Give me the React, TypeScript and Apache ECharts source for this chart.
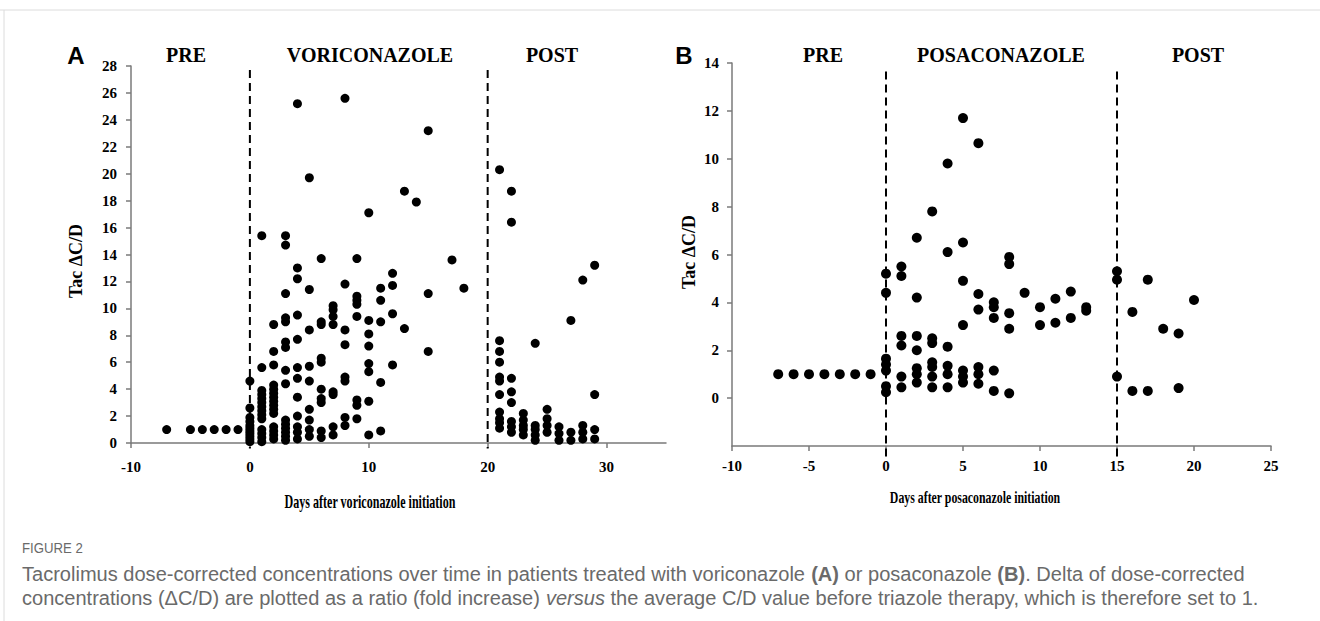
import { useEffect, useRef } from 'react';
import * as echarts from 'echarts';

// ---------- Panel A: voriconazole ----------
const voriPre: [number, number][] = [[-7, 1], [-5, 1], [-4, 1], [-3, 1], [-2, 1], [-1, 1]];
const voriOnDays = [0, 1, 2, 3, 4, 5, 6, 7, 8, 9, 10, 11, 12, 13, 14, 15, 17, 18];
const voriOnValues: number[][] = [
  [4.6, 2.6, 1.9, 1.6, 1.3, 1.1, 0.9, 0.7, 0.5, 0.3, 0.1],
  [15.4, 5.6, 3.9, 3.6, 3.3, 3.0, 2.7, 2.4, 2.1, 1.8, 1.0, 0.7, 0.4, 0.1],
  [8.8, 6.8, 5.8, 4.3, 4.0, 3.7, 3.4, 3.1, 2.8, 2.5, 2.2, 1.2, 0.9, 0.6, 0.3],
  [15.4, 14.7, 11.1, 9.3, 9.0, 7.5, 7.1, 5.4, 4.4, 1.7, 1.4, 1.1, 0.8, 0.5, 0.2],
  [25.2, 13.0, 12.2, 9.5, 7.7, 5.6, 4.8, 3.4, 2.0, 1.2, 0.8, 0.3],
  [19.7, 11.4, 8.4, 5.7, 4.6, 2.5, 1.7, 1.0, 0.5],
  [13.7, 9.0, 8.8, 6.3, 6.0, 4.0, 3.3, 3.0, 0.9, 0.4],
  [10.2, 9.9, 9.4, 8.8, 3.8, 3.6, 1.2, 0.6],
  [25.6, 11.8, 8.4, 7.3, 4.9, 4.6, 1.9, 1.3],
  [13.7, 10.9, 10.6, 10.3, 9.4, 3.2, 2.8, 1.8],
  [17.1, 9.1, 8.1, 7.2, 5.9, 5.3, 3.1, 0.6],
  [11.5, 10.6, 9.0, 4.5, 0.9],
  [12.6, 11.7, 9.6, 5.8],
  [18.7, 8.5],
  [17.9],
  [23.2, 11.1, 6.8],
  [13.6],
  [11.5],
];
const voriPostDays = [21, 22, 23, 24, 25, 26, 27, 28, 29];
const voriPostValues: number[][] = [
  [20.3, 7.6, 6.8, 6.0, 4.9, 4.6, 3.6, 2.3, 1.8, 1.5, 1.1],
  [18.7, 16.4, 4.8, 3.8, 3.0, 1.6, 1.2, 0.8],
  [2.2, 1.7, 1.3, 1.0, 0.6],
  [7.4, 1.3, 1.0, 0.6, 0.2],
  [2.5, 1.8, 1.3, 0.8],
  [1.2, 0.7, 0.2],
  [9.1, 0.8, 0.2],
  [12.1, 1.3, 0.8, 0.3],
  [13.2, 3.6, 1.0, 0.3],
];
const voriBoundaries = [0, 20];
const voriXTicks = [-10, 0, 10, 20, 30];
const voriYTicks = [0, 2, 4, 6, 8, 10, 12, 14, 16, 18, 20, 22, 24, 26, 28];

// ---------- Panel B: posaconazole ----------
const posaPre: [number, number][] = [[-7, 1], [-6, 1], [-5, 1], [-4, 1], [-3, 1], [-2, 1], [-1, 1]];
const posaOnDays = [0, 1, 2, 3, 4, 5, 6, 7, 8, 9, 10, 11, 12, 13];
const posaOnValues: number[][] = [
  [5.2, 4.4, 1.65, 1.4, 1.15, 0.5, 0.25],
  [5.5, 5.1, 2.6, 2.2, 0.9, 0.45],
  [6.7, 4.2, 2.6, 2.0, 1.25, 1.0, 0.65],
  [7.8, 2.5, 2.3, 1.5, 1.3, 0.9, 0.45],
  [9.8, 6.1, 2.15, 1.35, 1.0, 0.45],
  [11.7, 6.5, 4.9, 3.05, 1.15, 0.9, 0.65],
  [10.65, 4.35, 3.7, 1.3, 1.0, 0.6],
  [4.0, 3.8, 3.35, 1.15, 0.3],
  [5.9, 5.6, 3.55, 2.9, 0.2],
  [4.4],
  [3.8, 3.05],
  [4.15, 3.15],
  [4.45, 3.35],
  [3.8, 3.65],
];
const posaPostDays = [15, 16, 17, 18, 19, 20];
const posaPostValues: number[][] = [
  [5.3, 4.95, 0.9],
  [3.6, 0.3],
  [4.95, 0.3],
  [2.9],
  [2.7, 0.42],
  [4.1],
];
const posaBoundaries = [0, 15];
const posaXTicks = [-10, -5, 0, 5, 10, 15, 20, 25];
const posaYTicks = [0, 2, 4, 6, 8, 10, 12, 14];

const phaseTitlesA = ['PRE', 'VORICONAZOLE', 'POST'];
const phaseTitlesB = ['PRE', 'POSACONAZOLE', 'POST'];

function flatten(days: number[], values: number[][]): [number, number][] {
  const out: [number, number][] = [];
  days.forEach((d, i) => values[i].forEach((v) => out.push([d, v])));
  return out;
}

const SERIF = "'Liberation Serif', 'Times New Roman', serif";
const SANS = "'Liberation Sans', Arial, sans-serif";
const AXIS_COLOR = '#7a7a7a';
const CAPTION_COLOR = '#6a6a6a';

function axisCommon(ticks: number[], margin: number) {
  return {
    axisLine: { show: true, onZero: false, lineStyle: { color: AXIS_COLOR, width: 1.5 } },
    axisTick: { show: true, length: 5, customValues: ticks, lineStyle: { color: AXIS_COLOR, width: 1.5 } },
    axisLabel: {
      customValues: ticks,
      color: '#000',
      fontFamily: SERIF,
      fontWeight: 'bold',
      fontSize: 15,
      margin,
    },
    splitLine: { show: false },
  };
}

export default function App() {
  const ref = useRef<HTMLDivElement>(null);
  useEffect(() => {
    if (!ref.current) return;
    const chart = echarts.init(ref.current, undefined, { renderer: 'svg' });

    const dashed = (b: number, top: number, bottom: number, gi: number) => ({
      type: 'line',
      xAxisIndex: gi,
      yAxisIndex: gi,
      data: [[b, top], [b, bottom]],
      symbol: 'none',
      clip: false,
      silent: true,
      lineStyle: { color: '#000', width: 2, type: [8, 5] },
      z: 1,
    });

    const titleStyle = (text: string, x: number, y: number, fontSize = 20, fontFamily = SERIF) => ({
      type: 'text',
      x,
      y,
      style: {
        text,
        fill: '#000',
        fontFamily,
        fontWeight: 'bold',
        fontSize,
        align: 'center',
        verticalAlign: 'middle',
      },
    });

    const captionLine = (text: string, y: number, rich: any) => ({
      type: 'text',
      x: 22,
      y,
      scaleX: 0.955,
      style: {
        text,
        fill: CAPTION_COLOR,
        fontFamily: SANS,
        fontSize: 21,
        verticalAlign: 'middle',
        rich,
      },
    });

    const option: any = {
      animation: false,
      backgroundColor: '#fff',
      grid: [
        { left: 131, top: 66, width: 535, height: 377 },
        { left: 732, top: 63, width: 539, height: 383 },
      ],
      xAxis: [
        { type: 'value', gridIndex: 0, min: -10, max: 35, interval: 10, ...axisCommon(voriXTicks, 16) },
        { type: 'value', gridIndex: 1, min: -10, max: 25, interval: 5, ...axisCommon(posaXTicks, 12) },
      ],
      yAxis: [
        { type: 'value', gridIndex: 0, min: 0, max: 28, interval: 2, ...axisCommon(voriYTicks, 14) },
        { type: 'value', gridIndex: 1, min: -2, max: 14, interval: 2, ...axisCommon(posaYTicks, 13) },
      ],
      series: [
        {
          type: 'scatter',
          xAxisIndex: 0,
          yAxisIndex: 0,
          symbolSize: 9,
          itemStyle: { color: '#000', opacity: 1 },
          data: [...voriPre, ...flatten(voriOnDays, voriOnValues), ...flatten(voriPostDays, voriPostValues)],
          z: 3,
        },
        {
          type: 'scatter',
          xAxisIndex: 1,
          yAxisIndex: 1,
          symbolSize: 10,
          itemStyle: { color: '#000', opacity: 1 },
          data: [...posaPre, ...flatten(posaOnDays, posaOnValues), ...flatten(posaPostDays, posaPostValues)],
          z: 3,
        },
        ...voriBoundaries.map((b) => dashed(b, 27.7, -0.4, 0)),
        ...posaBoundaries.map((b) => dashed(b, 13.65, -2.45, 1)),
      ],
      graphic: [
        // frame lines
        { type: 'line', shape: { x1: 0, y1: 10, x2: 1320, y2: 10 }, style: { stroke: '#dcdcdc', lineWidth: 1 } },
        { type: 'line', shape: { x1: 4, y1: 10, x2: 4, y2: 621 }, style: { stroke: '#dcdcdc', lineWidth: 1 } },
        // panel letters
        titleStyle('A', 76, 55, 24, SANS),
        titleStyle('B', 684, 55, 24, SANS),
        // phase titles
        titleStyle(phaseTitlesA[0], 186, 55),
        titleStyle(phaseTitlesA[1], 370, 55),
        titleStyle(phaseTitlesA[2], 552, 55),
        titleStyle(phaseTitlesB[0], 823, 55),
        titleStyle(phaseTitlesB[1], 1001, 55),
        titleStyle(phaseTitlesB[2], 1198, 55),
        // y-axis names
        { ...titleStyle('Tac \u0394C/D', 76, 261, 18), rotation: Math.PI / 2 },
        { ...titleStyle('Tac \u0394C/D', 689, 252, 18), rotation: Math.PI / 2 },
        // x-axis names (condensed)
        { ...titleStyle('Days after voriconazole initiation', 370, 502, 18), scaleX: 0.67 },
        { ...titleStyle('Days after posaconazole initiation', 975, 497, 16), scaleX: 0.74 },
        // caption
        {
          type: 'text',
          x: 22,
          y: 548,
          scaleX: 0.88,
          style: {
            text: 'FIGURE 2',
            fill: CAPTION_COLOR,
            fontFamily: SANS,
            fontSize: 15,
            verticalAlign: 'middle',
          },
        },
        captionLine(
          'Tacrolimus dose-corrected concentrations over time in patients treated with voriconazole {b|(A)} or posaconazole {b|(B)}. Delta of dose-corrected',
          573,
          { b: { fontWeight: 'bold', fontFamily: SANS, fontSize: 21, fill: CAPTION_COLOR } }
        ),
        captionLine(
          'concentrations (\u0394C/D) are plotted as a ratio (fold increase) {i|versus} the average C/D value before triazole therapy, which is therefore set to 1.',
          597,
          { i: { fontStyle: 'italic', fontFamily: SANS, fontSize: 21, fill: CAPTION_COLOR } }
        ),
      ],
    };
    chart.setOption(option);
    return () => chart.dispose();
  }, []);
  return <div ref={ref} style={{ position: 'absolute', left: 0, top: 0, width: 1320, height: 621 }} />;
}
